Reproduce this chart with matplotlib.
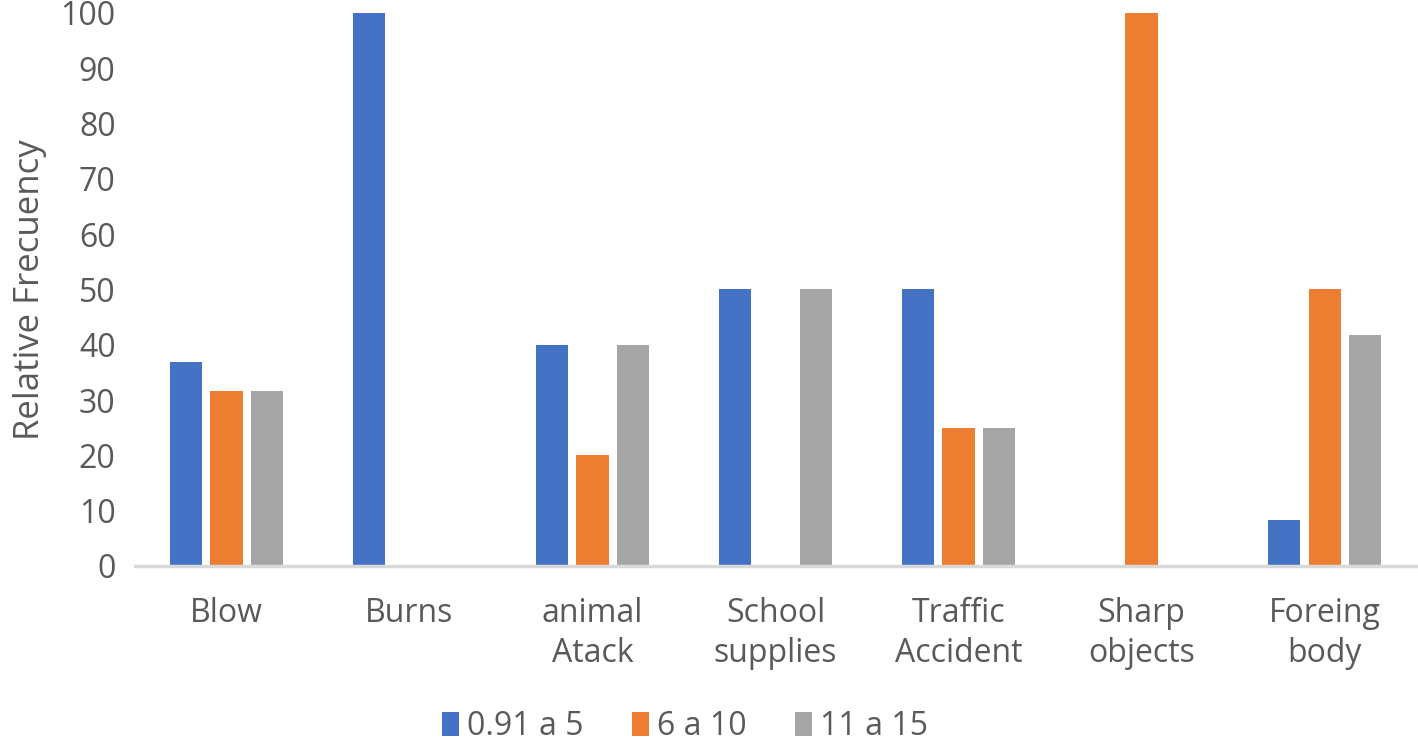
import numpy as np
import matplotlib.pyplot as plt

categories = ["Blow", "Burns", "animal\nAtack", "School\nsupplies", "Traffic\nAccident", "Sharp\nobjects", "Foreing\nbody"]
series_names = ["0.91 a 5", "6 a 10", "11 a 15"]
age_0_5 = [36.8, 100, 40, 50, 50, 0, 8.3]
age_6_10 = [31.6, 0, 20, 0, 25, 100, 50]
age_11_15 = [31.6, 0, 40, 50, 25, 0, 41.7]
colors = ["#4472C4", "#ED7D31", "#A5A5A5"]

plt.rcParams['font.family'] = ['Open Sans', 'DejaVu Sans']
text_color = "#595959"

fig = plt.figure(figsize=(14.18, 7.45), dpi=100)
ax = fig.add_axes([0.0952, 0.2403, 0.9034, 0.7423])

x = np.arange(len(categories))
width = 0.175
step = 0.221
for i, (vals, name) in enumerate(zip([age_0_5, age_6_10, age_11_15], series_names)):
    ax.bar(x + (i - 1) * step, vals, width, color=colors[i], label=name, zorder=2)

ax.set_xlim(-0.5, len(categories) - 0.5)
ax.set_ylim(0, 100)
ax.set_yticks(np.arange(0, 101, 10))
ax.set_xticks(x)
ax.set_xticklabels(categories, linespacing=1.3)
ax.tick_params(axis='both', length=0, labelsize=23, colors=text_color)
ax.tick_params(axis='x', pad=22)
ax.tick_params(axis='y', pad=14)

for s in ['top', 'right', 'left']:
    ax.spines[s].set_visible(False)
ax.spines['bottom'].set_color('#D9D9D9')
ax.spines['bottom'].set_linewidth(2.5)

ax.set_ylabel("Relative Frecuency", fontsize=25, color=text_color, labelpad=10)

fig.legend(loc='center', bbox_to_anchor=(0.483, 0.025), ncol=3, frameon=False,
           fontsize=23, labelcolor=text_color, handlelength=0.55, handleheight=0.8,
           handletextpad=0.25, columnspacing=1.5)

fig.savefig("out.png", dpi=100)
